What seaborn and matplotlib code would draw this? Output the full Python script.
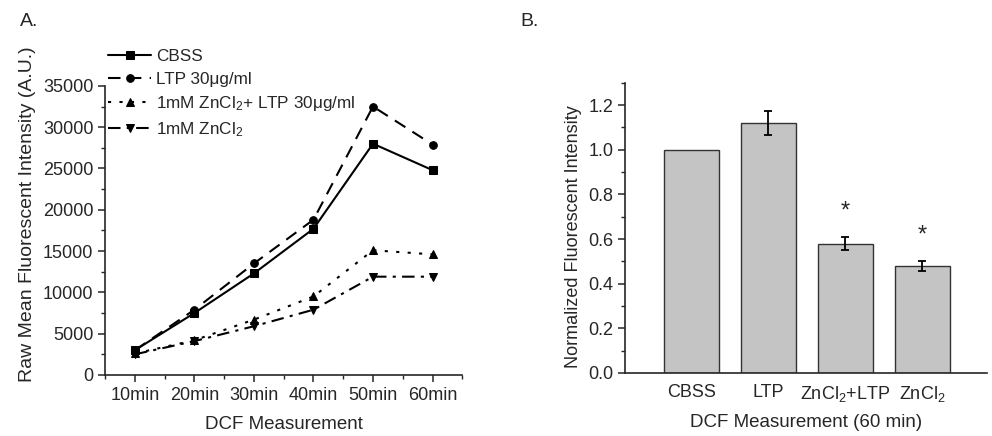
import matplotlib
matplotlib.use("Agg")
import matplotlib.pyplot as plt
from matplotlib.ticker import MultipleLocator, FormatStrFormatter
import numpy as np
import pandas as pd
import seaborn as sns

# panel A data
times = ["10min", "20min", "30min", "40min", "50min", "60min"]
cbss = [3000, 7500, 12300, 17700, 28000, 24800]
ltp = [3000, 7900, 13500, 18800, 32500, 27900]
zn_ltp = [2600, 4200, 6700, 9500, 15100, 14600]
zn = [2500, 4100, 5900, 7900, 11900, 11900]
series_names = ["CBSS", "LTP 30\u03bcg/ml", "1mM ZnCl$_2$+ LTP 30\u03bcg/ml", "1mM ZnCl$_2$"]

# panel B data
groups = ["CBSS", "LTP", "ZnCl$_2$+LTP", "ZnCl$_2$"]
norm_vals = [1.0, 1.12, 0.58, 0.48]
norm_err = [0.0, 0.055, 0.03, 0.023]
signif = ["", "", "*", "*"]

sns.set_style("ticks")
plt.rcParams["font.family"] = ["Liberation Sans", "DejaVu Sans"]
plt.rcParams["mathtext.fontset"] = "custom"
plt.rcParams["mathtext.rm"] = "Liberation Sans"
plt.rcParams["mathtext.default"] = "regular"
plt.rcParams["axes.linewidth"] = 1.2

fig = plt.figure(figsize=(9.92, 4.36), dpi=100)
fig.patch.set_facecolor("white")

# ---- A ----
ax1 = fig.add_axes([0.106, 0.140, 0.360, 0.663])
x = np.arange(len(times))
styles = [("-", "s"), ((0, (6, 4)), "o"), ((0, (1.5, 4)), "^"), ((0, (6, 3, 1.5, 3)), "v")]
for vals, name, (ls, mk) in zip([cbss, ltp, zn_ltp, zn], series_names, styles):
    sns.lineplot(x=x, y=vals, ax=ax1, color="black", linestyle=ls, marker=mk,
                 markersize=5.5, markeredgecolor="black", linewidth=1.5, label=name)
ax1.set_xlim(-0.5, 5.5)
ax1.set_ylim(0, 35000)
ax1.set_xticks(x)
ax1.set_xticklabels(times)
ax1.xaxis.set_minor_locator(MultipleLocator(0.5))
ax1.yaxis.set_major_locator(MultipleLocator(5000))
ax1.yaxis.set_minor_locator(MultipleLocator(2500))
ax1.tick_params(axis="both", which="major", labelsize=13, length=5, width=1.1, direction="out")
ax1.tick_params(axis="both", which="minor", length=3, width=1.0, direction="out")
ax1.set_xlabel("DCF Measurement", fontsize=13.5, labelpad=9)
ax1.set_ylabel("Raw Mean Fluorescent Intensity (A.U.)", fontsize=14)
ax1.yaxis.set_label_coords(-0.195, 0.557)
sns.despine(ax=ax1)
ax1.legend(loc="upper left", bbox_to_anchor=(-0.01, 1.15), frameon=False, fontsize=12.3,
           handlelength=2.5, handletextpad=0.3, labelspacing=0.42, borderaxespad=0)
fig.text(0.02, 0.95, "A.", fontsize=14, va="center")

# ---- B ----
ax2 = fig.add_axes([0.630, 0.1445, 0.365, 0.6655])
bdf = pd.DataFrame({"group": groups, "value": norm_vals})
sns.barplot(data=bdf, x="group", y="value", ax=ax2, color="#c4c4c4", edgecolor="#333333",
            linewidth=1.0, width=0.71, saturation=1)
for i, (v, e, s) in enumerate(zip(norm_vals, norm_err, signif)):
    if e > 0:
        ax2.errorbar(i, v, yerr=e, color="black", capsize=3, elinewidth=1.3, capthick=1.3)
    if s:
        ax2.text(i, v + e + 0.115, s, ha="center", va="center", fontsize=17)
ax2.set_xlim(-0.86, 3.84)
ax2.set_ylim(0, 1.3)
ax2.yaxis.set_major_locator(MultipleLocator(0.2))
ax2.yaxis.set_minor_locator(MultipleLocator(0.1))
ax2.yaxis.set_major_formatter(FormatStrFormatter("%.1f"))
ax2.tick_params(axis="y", which="major", labelsize=13, length=5, width=1.1)
ax2.tick_params(axis="y", which="minor", length=3, width=1.0)
ax2.tick_params(axis="x", length=0, labelsize=13, pad=8)
ax2.set_xlabel("DCF Measurement (60 min)", fontsize=13.5, labelpad=7)
ax2.set_ylabel("Normalized Fluorescent Intensity", fontsize=13)
ax2.yaxis.set_label_coords(-0.12, 0.47)
sns.despine(ax=ax2)
fig.text(0.525, 0.95, "B.", fontsize=14, va="center")

fig.savefig("out.png", dpi=100, facecolor="white")
